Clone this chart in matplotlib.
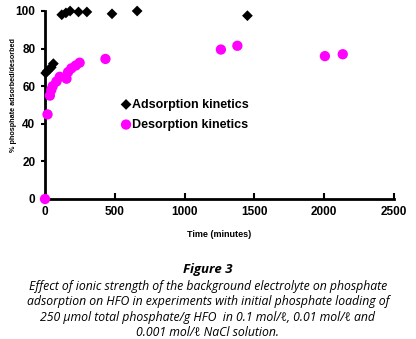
import matplotlib.pyplot as plt

# adsorption kinetics (time in minutes, % adsorbed)
ads_t = [5, 15, 30, 45, 60, 120, 150, 180, 240, 300, 480, 660, 1450]
ads_y = [67, 68, 69, 70, 72, 98, 99, 100, 99.5, 99.5, 98.5, 100, 97.5]

# desorption kinetics
des_t = [0, 18, 35, 45, 55, 82, 106, 154, 165, 189, 220, 248, 433, 1260, 1378, 2005, 2133]
des_y = [0, 45, 55, 58, 60, 62.5, 65, 64, 67.5, 69.5, 71, 72.5, 74.5, 79.5, 81.5, 76, 77]

xticks = [0, 500, 1000, 1500, 2000, 2500]
yticks = [0, 20, 40, 60, 80, 100]

caption_title = "Figure 3"
caption = ("Effect of ionic strength of the background electrolyte on phosphate\n"
           "adsorption on HFO in experiments with initial phosphate loading of\n"
           "250 \u00b5mol total phosphate/g HFO  in 0.1 mol/\u2113, 0.01 mol/\u2113 and\n"
           "0.001 mol/\u2113 NaCl solution.")

fig = plt.figure(figsize=(4.16, 3.39), dpi=100)
ax = fig.add_axes((45/416, 1-199/339, 349/416, 188/339))

ax.scatter(des_t, des_y, s=55, c='#ff00ff', edgecolors='none', zorder=3,
           label='Desorption kinetics', clip_on=False)
ax.scatter(ads_t, ads_y, s=30, c='black', marker='D', edgecolors='none', zorder=4,
           label='Adsorption kinetics', clip_on=False)

ax.set_xlim(0, 2500)
ax.set_ylim(0, 100)
ax.set_xticks(xticks)
ax.set_yticks(yticks)
for s in ['top', 'right']:
    ax.spines[s].set_visible(False)
for s in ['left', 'bottom']:
    ax.spines[s].set_linewidth(2)
ax.tick_params(axis='x', direction='in', length=4, width=1.5, labelsize=8.5, pad=5)
ax.tick_params(axis='y', direction='out', length=3, width=1.5, labelsize=8.5, pad=4)
for lab in ax.get_xticklabels() + ax.get_yticklabels():
    lab.set_fontweight('bold')
    lab.set_family('Liberation Sans')

ax.set_xlabel('Time (minutes)', fontsize=6.5, fontweight='bold', family='Liberation Sans', labelpad=9)
ax.set_ylabel('% phosphate adsorbed/desorbed', fontsize=5.2, fontweight='bold',
              family='Liberation Sans')
ax.yaxis.set_label_coords(-0.08, 0.553)

handles, labels = ax.get_legend_handles_labels()
ax.legend(handles[::-1], labels[::-1], loc='upper left', bbox_to_anchor=(0.2, 0.56),
          frameon=False, prop={'family': 'Liberation Sans', 'weight': 'bold', 'size': 9},
          handletextpad=0.0, labelspacing=0.65, scatterpoints=1, handlelength=1,
          borderaxespad=0)

fig.text(0.5, 1-269/339, caption_title, ha='center', va='center', fontsize=9.5,
         fontweight='bold', style='italic', family='Open Sans')
fig.text(0.5, 1-309.5/339, caption, ha='center', va='center', fontsize=8.8,
         style='italic', family='Open Sans', linespacing=1.25)

fig.savefig('out.png', dpi=100)
